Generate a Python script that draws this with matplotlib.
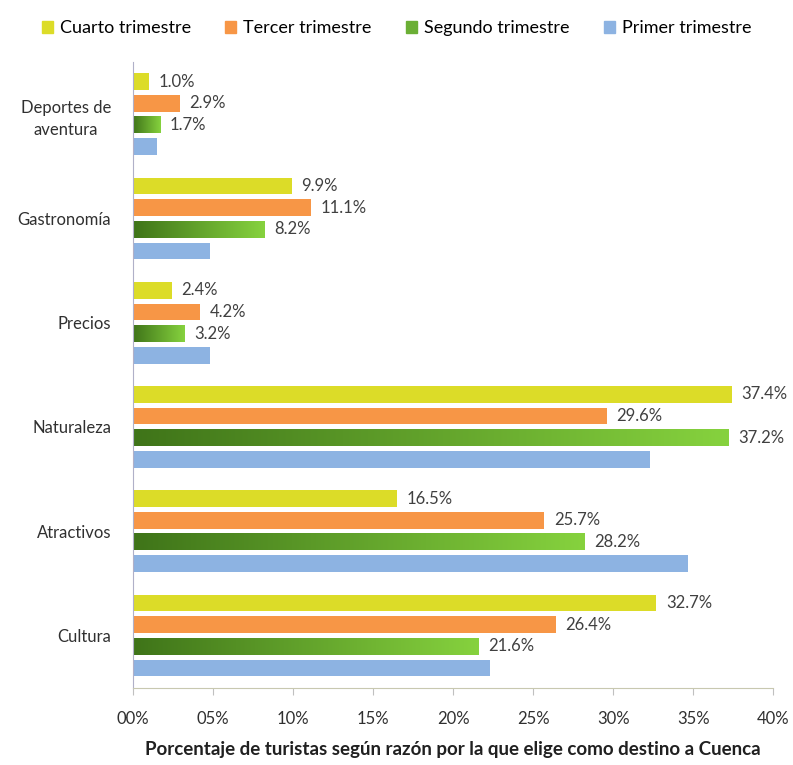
import matplotlib
matplotlib.use("Agg")
import matplotlib.pyplot as plt
import numpy as np
from matplotlib.colors import LinearSegmentedColormap

plt.rcParams['font.family'] = ['Lato', 'DejaVu Sans']

categories = ["Deportes de\naventura", "Gastronomía", "Precios", "Naturaleza", "Atractivos", "Cultura"]
series_names = ["Cuarto trimestre", "Tercer trimestre", "Segundo trimestre", "Primer trimestre"]
cuarto = [1.0, 9.9, 2.4, 37.4, 16.5, 32.7]
tercer = [2.9, 11.1, 4.2, 29.6, 25.7, 26.4]
segundo = [1.7, 8.2, 3.2, 37.2, 28.2, 21.6]
primer = [1.5, 4.8, 4.8, 32.3, 34.7, 22.3]
show_labels = [True, True, True, False]
xticks = [0, 5, 10, 15, 20, 25, 30, 35, 40]
xtick_labels = ["00%", "05%", "10%", "15%", "20%", "25%", "30%", "35%", "40%"]

colors = ["#DCDC28", "#F79646", "#6BAF35", "#8DB3E2"]
values = [cuarto, tercer, segundo, primer]

fig = plt.figure(figsize=(7.93, 7.65), dpi=100)
ax = fig.add_axes([0.168, 0.101, 0.807, 0.818])

n = len(categories)
y = np.arange(n)
pitch = 0.208
h = 0.16
green_cmap = LinearSegmentedColormap.from_list("g", ["#3F7419", "#86D23E"])
grad = np.linspace(0, 1, 256).reshape(1, -1)

for s, (vals, col) in enumerate(zip(values, colors)):
    offs = (s - 1.5) * pitch
    bars = ax.barh(y + offs, vals, height=h, color=col, label=series_names[s], zorder=2)
    if s == 2:
        for b in bars:
            b.set_facecolor("none")
            x0, y0, w, hh = b.get_x(), b.get_y(), b.get_width(), b.get_height()
            ax.imshow(grad, cmap=green_cmap, aspect='auto',
                      extent=(x0, x0 + w, y0 + hh, y0), zorder=2)
    if show_labels[s]:
        for b, v in zip(bars, vals):
            ax.text(b.get_width() + 0.6, b.get_y() + b.get_height() / 2,
                    f"{v:.1f}%", va='center', ha='left', fontsize=12, color='#404040')

ax.set_ylim(n - 0.5, -0.5)
ax.set_xlim(0, 40)
ax.set_yticks(y)
ax.set_yticklabels(categories, fontsize=12, color='#303030', ha='right',
                   multialignment='center', linespacing=1.5)
ax.tick_params(axis='y', length=0, pad=16)
ax.set_xticks(xticks)
ax.set_xticklabels(xtick_labels, fontsize=12, color='#303030')
ax.tick_params(axis='x', length=5, color='#C0C0C0', pad=12)
for sp in ['top', 'right']:
    ax.spines[sp].set_visible(False)
ax.spines['left'].set_color('#B0B0C8')
ax.spines['bottom'].set_color('#C8C8B0')
ax.set_xlabel("Porcentaje de turistas según razón por la que elige como destino a Cuenca",
              fontsize=13.5, fontweight='bold', color='#202020', labelpad=10)

handles = [plt.Rectangle((0, 0), 1, 1, color=c) for c in colors]
fig.legend(handles, series_names, loc='center', bbox_to_anchor=(0.5, 0.963), ncol=4,
           frameon=False, fontsize=13, handlelength=0.6, handleheight=0.6,
           handletextpad=0.4, columnspacing=1.9)

fig.savefig("out.png", dpi=100)
